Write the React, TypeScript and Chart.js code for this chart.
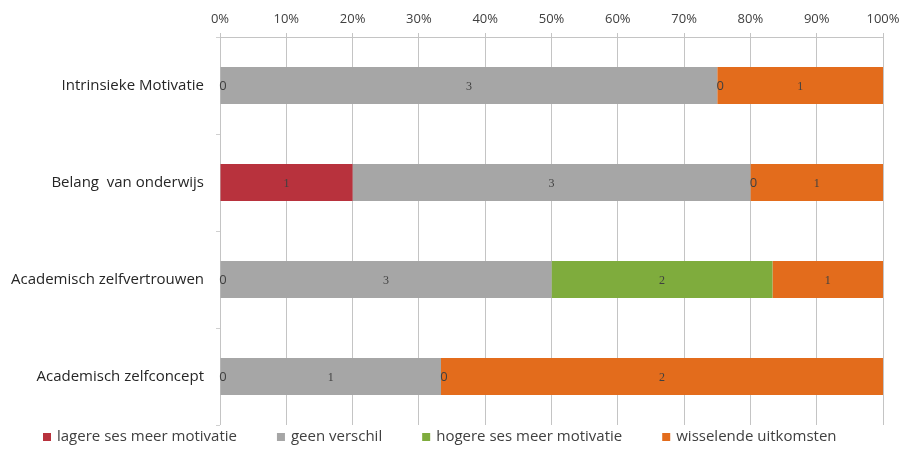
import React, { useEffect, useRef } from "react";
import { Chart, registerables } from "chart.js";

Chart.register(...registerables);

const categories = [
  "Intrinsieke Motivatie",
  "Belang  van onderwijs",
  "Academisch zelfvertrouwen",
  "Academisch zelfconcept",
];

const seriesNames = [
  "lagere ses meer motivatie",
  "geen verschil",
  "hogere ses meer motivatie",
  "wisselende uitkomsten",
];

const lagereSes = [0, 1, 0, 0];
const geenVerschil = [3, 3, 3, 1];
const hogereSes = [0, 0, 2, 0];
const wisselend = [1, 1, 1, 2];

const seriesColors = ["#b8323d", "#a6a6a6", "#7fac3d", "#e36c1c"];

const counts = [lagereSes, geenVerschil, hogereSes, wisselend];
const totals = categories.map((_, i) => counts.reduce((s, arr) => s + arr[i], 0));

const SANS = "'Open Sans', 'Noto Sans', sans-serif";
const SERIF = "'Liberation Serif', 'DejaVu Serif', serif";

const valueLabels = {
  id: "valueLabels",
  afterDatasetsDraw(chart: any) {
    const ctx = chart.ctx;
    ctx.save();
    ctx.textAlign = "center";
    ctx.textBaseline = "middle";
    chart.data.datasets.forEach((ds: any, di: number) => {
      const meta = chart.getDatasetMeta(di);
      meta.data.forEach((bar: any, i: number) => {
        const raw = ds.counts[i];
        const cx = raw === 0 ? bar.base + 3 : (bar.base + bar.x) / 2;
        ctx.font = raw === 0 ? `13px ${SANS}` : `12px ${SERIF}`;
        ctx.fillStyle = "#404040";
        ctx.fillText(String(raw), cx, bar.y + 1);
      });
    });
    ctx.restore();
  },
};

const bottomLegend = {
  id: "bottomLegend",
  afterDraw(chart: any) {
    const ctx = chart.ctx;
    ctx.save();
    ctx.font = `15px ${SANS}`;
    ctx.textBaseline = "middle";
    let x = 43;
    const y = 437;
    chart.data.datasets.forEach((ds: any) => {
      ctx.fillStyle = ds.backgroundColor;
      ctx.fillRect(x, y - 4, 8, 8);
      x += 14;
      ctx.fillStyle = "#404040";
      ctx.fillText(ds.label, x, y);
      x += ctx.measureText(ds.label).width + 40;
    });
    ctx.restore();
  },
};

export default function App() {
  const canvasRef = useRef<HTMLCanvasElement | null>(null);

  useEffect(() => {
    if (!canvasRef.current) return;
    const chart = new Chart(canvasRef.current, {
      type: "bar",
      data: {
        labels: categories,
        datasets: counts.map((arr, si) => ({
          label: seriesNames[si],
          data: arr.map((v, i) => (v / totals[i]) * 100),
          counts: arr,
          backgroundColor: seriesColors[si],
          borderWidth: 0,
          barPercentage: 0.38,
          categoryPercentage: 1,
        })) as any,
      },
      options: {
        indexAxis: "y",
        animation: false,
        responsive: true,
        maintainAspectRatio: false,
        layout: { padding: { left: 8, right: 23, top: 0, bottom: 51 } },
        plugins: {
          legend: { display: false },
          tooltip: { enabled: false },
        },
        scales: {
          x: {
            position: "top",
            stacked: true,
            min: 0,
            max: 100,
            afterFit: (s: any) => {
              s.height = 37;
            },
            ticks: {
              stepSize: 10,
              padding: 6,
              color: "#404040",
              font: { family: SANS, size: 13 },
              callback: (v: any) => `${v}%`,
            },
            grid: { color: "#c4c4c4", tickLength: 4, lineWidth: 1 },
            border: { display: true, color: "#c4c4c4" },
          },
          y: {
            stacked: true,
            afterFit: (s: any) => {
              s.width = 212;
            },
            ticks: {
              color: "#262626",
              padding: 12,
              font: { family: SANS, size: 15 },
            },
            grid: {
              drawOnChartArea: false,
              offset: true,
              tickLength: 4,
              color: "#d0d0d0",
            },
            border: { display: false },
          },
        },
      },
      plugins: [valueLabels, bottomLegend],
    });
    return () => chart.destroy();
  }, []);

  return (
    <div style={{ position: "fixed", left: 0, top: 0, width: 906, height: 476, background: "#fff" }}>
      <canvas ref={canvasRef} />
    </div>
  );
}
